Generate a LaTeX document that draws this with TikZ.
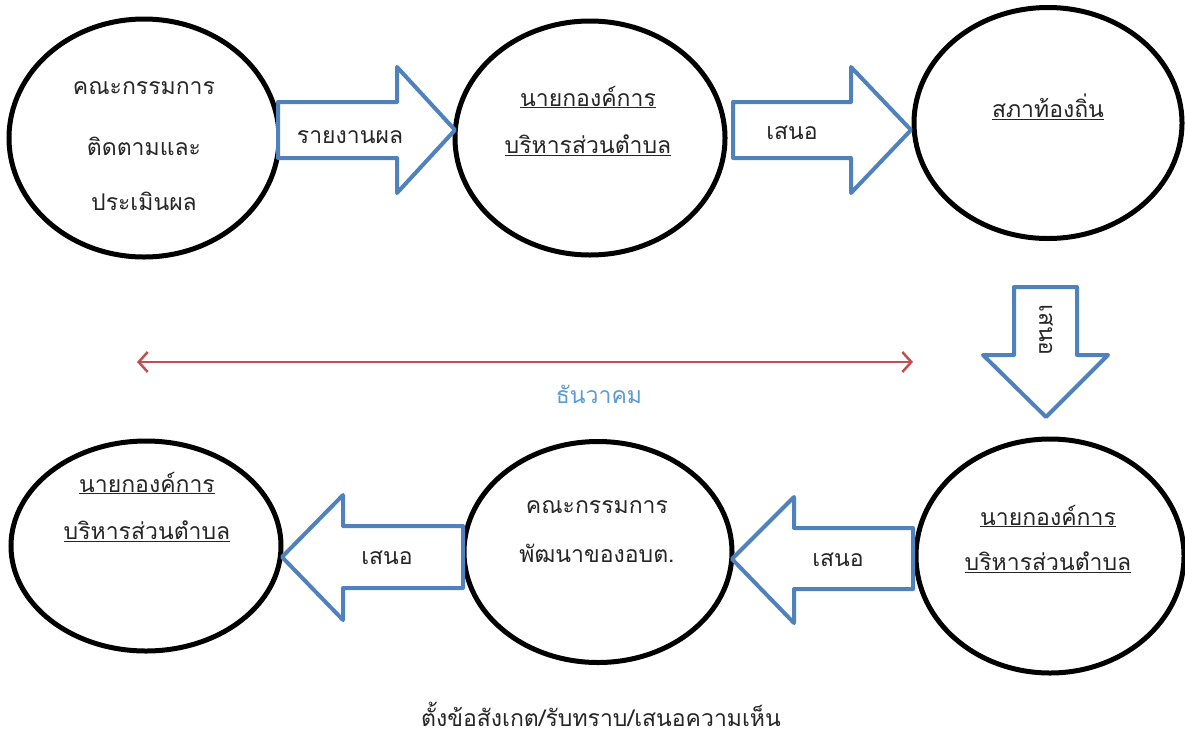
\documentclass[tikz,border=0pt]{standalone}
\usepackage{fontspec}
\newfontfamily\thai[Script=Thai]{Loma}
\usetikzlibrary{shapes.geometric,arrows.meta}
\definecolor{arrowblue}{HTML}{4F81BD}
\definecolor{linered}{HTML}{C0504D}
\definecolor{monthblue}{HTML}{5B9BD5}
\begin{document}
\begin{tikzpicture}[x=1pt,y=-1pt,
  circ/.style={draw=black,line width=5pt,ellipse,inner sep=0pt,fill=white},
  lbl/.style={font=\thai\fontsize{23}{26}\selectfont,inner sep=0pt,text=black!85},
  blockarrow/.style={draw=arrowblue,line width=4pt,line join=round,fill=white}]
\useasboundingbox (0,0) rectangle (1185,737);
% ellipses
\node[circ,minimum width=270pt,minimum height=238pt] (e1) at (144,138) {};
\node[circ,minimum width=270pt,minimum height=234pt] (e2) at (590,138) {};
\node[circ,minimum width=268pt,minimum height=231pt] (e3) at (1048,123) {};
\node[circ,minimum width=268pt,minimum height=234pt] (e4) at (1050,556) {};
\node[circ,minimum width=268pt,minimum height=221pt] (e5) at (598,552) {};
\node[circ,minimum width=270pt,minimum height=210pt] (e6) at (146,546) {};
% labels in ellipses
\node[lbl] (t1a) at (144,88) {คณะกรรมการ};
\node[lbl] (t1b) at (144,146) {ติดตามและ};
\node[lbl] (t1c) at (144,201) {ประเมินผล};
\node[lbl] (t2a) at (588,97) {\underline{นายกองค์การ}};
\node[lbl] (t2b) at (588,145) {\underline{บริหารส่วนตำบล}};
\node[lbl] (t3) at (1048,107) {\underline{สภาท้องถิ่น}};
\node[lbl] (t4a) at (1048,516) {\underline{นายกองค์การ}};
\node[lbl] (t4b) at (1048,562) {\underline{บริหารส่วนตำบล}};
\node[lbl] (t5a) at (597,507) {คณะกรรมการ};
\node[lbl] (t5b) at (597,553) {พัฒนาของอบต.};
\node[lbl] (t6a) at (147,483) {\underline{นายกองค์การ}};
\node[lbl] (t6b) at (147,531) {\underline{บริหารส่วนตำบล}};
% block arrows
\draw[blockarrow] (278,102) -- (397,102) -- (397,67) -- (455,130) -- (397,193) -- (397,158) -- (278,158) -- cycle;
\node[lbl] (a1) at (350,137) {รายงานผล};
\draw[blockarrow] (733,102) -- (851,102) -- (851,67) -- (911,130) -- (851,193) -- (851,158) -- (733,158) -- cycle;
\node[lbl] (a2) at (792,133) {เสนอ};
\draw[blockarrow] (1014,287) -- (1077,287) -- (1077,355) -- (1108,355) -- (1046,417) -- (983,355) -- (1014,355) -- cycle;
\node[lbl,rotate=-90] (a3) at (1046,330) {เสนอ};
\draw[blockarrow] (913,528) -- (794,528) -- (794,497) -- (732,559) -- (794,623) -- (794,589) -- (913,589) -- cycle;
\node[lbl] (a4) at (838,560) {เสนอ};
\draw[blockarrow] (463,526) -- (343,526) -- (343,495) -- (282,557) -- (343,620) -- (343,588) -- (463,588) -- cycle;
\node[lbl] (a5) at (387,558) {เสนอ};
% timeline
\coordinate (l1) at (137,362);
\coordinate (l2) at (913,362);
\draw[linered,line width=2.5pt,{Straight Barb[length=9pt,width=20pt,line width=2.5pt]}-{Straight Barb[length=9pt,width=20pt,line width=2.5pt]}] (l1) -- (l2);
\node[lbl,text=monthblue] (m) at (599,394) {ธันวาคม};
\node[lbl] (bottom) at (601,714) {ตั้งข้อสังเกต/รับทราบ/เสนอความเห็น};
\end{tikzpicture}
\end{document}
